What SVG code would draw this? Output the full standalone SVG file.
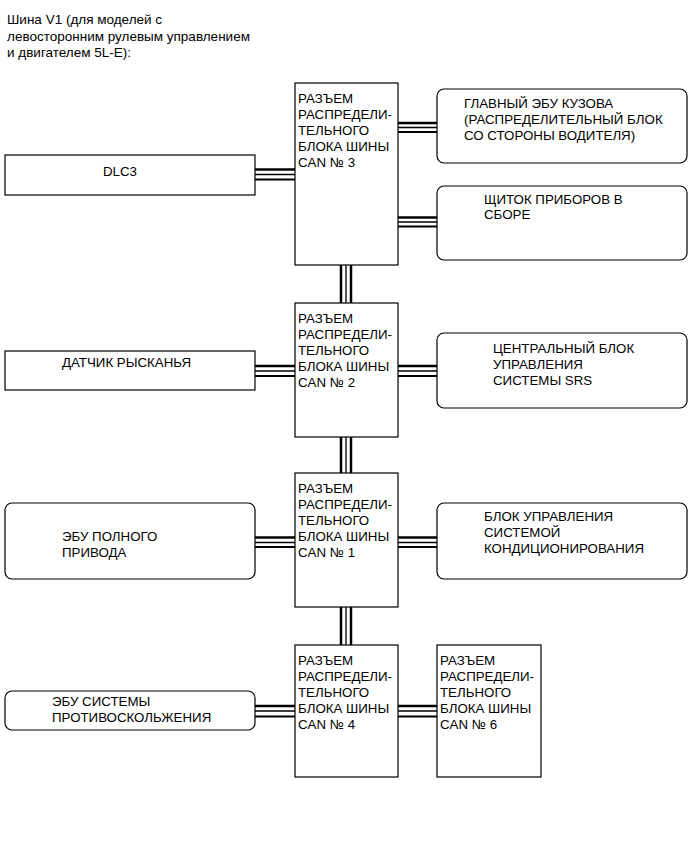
<svg xmlns="http://www.w3.org/2000/svg" width="690" height="853" viewBox="0 0 690 853">
<style>
  .box { fill: #fff; stroke: #000; stroke-width: 1.2; }
  .t { font-family: "Liberation Sans", Arial, sans-serif; font-size: 13.3px; fill: #000; }
  .title { font-family: "Liberation Sans", Arial, sans-serif; font-size: 13.5px; fill: #000; }
  .w1 { stroke: #000; stroke-width: 2.5; fill: none; }
  .w2 { stroke: #000; stroke-width: 1.3; fill: none; }
  .w3 { stroke: #000; stroke-width: 2.2; fill: none; }
</style>
<rect width="690" height="853" fill="#fff"/>

<g id="title">
  <text class="title" x="7" y="24">Шина V1 (для моделей с</text>
  <text class="title" x="7" y="40.5">левосторонним рулевым управлением</text>
  <text class="title" x="7" y="57">и двигателем 5L-E):</text>
</g>

<g id="connectors">
  <g>
    <line class="w1" x1="341" y1="265" x2="341" y2="303"/>
    <line class="w2" x1="346" y1="265" x2="346" y2="303"/>
    <line class="w1" x1="351" y1="265" x2="351" y2="303"/>
  </g>
  <g>
    <line class="w1" x1="341" y1="437" x2="341" y2="473"/>
    <line class="w2" x1="346" y1="437" x2="346" y2="473"/>
    <line class="w1" x1="351" y1="437" x2="351" y2="473"/>
  </g>
  <g>
    <line class="w1" x1="341" y1="607" x2="341" y2="645"/>
    <line class="w2" x1="346" y1="607" x2="346" y2="645"/>
    <line class="w1" x1="351" y1="607" x2="351" y2="645"/>
  </g>
  <g>
    <line class="w1" x1="255" y1="169.5" x2="295" y2="169.5"/>
    <line class="w2" x1="255" y1="174.5" x2="295" y2="174.5"/>
    <line class="w3" x1="255" y1="179.5" x2="295" y2="179.5"/>
  </g>
  <g>
    <line class="w1" x1="398" y1="123" x2="437" y2="123"/>
    <line class="w2" x1="398" y1="127.5" x2="437" y2="127.5"/>
    <line class="w3" x1="398" y1="132" x2="437" y2="132"/>
  </g>
  <g>
    <line class="w1" x1="398" y1="217.5" x2="437" y2="217.5"/>
    <line class="w2" x1="398" y1="222" x2="437" y2="222"/>
    <line class="w3" x1="398" y1="226.5" x2="437" y2="226.5"/>
  </g>
  <g>
    <line class="w1" x1="255" y1="366" x2="295" y2="366"/>
    <line class="w2" x1="255" y1="371" x2="295" y2="371"/>
    <line class="w3" x1="255" y1="376" x2="295" y2="376"/>
  </g>
  <g>
    <line class="w1" x1="398" y1="366" x2="437" y2="366"/>
    <line class="w2" x1="398" y1="371" x2="437" y2="371"/>
    <line class="w3" x1="398" y1="376" x2="437" y2="376"/>
  </g>
  <g>
    <line class="w1" x1="255" y1="537.5" x2="295" y2="537.5"/>
    <line class="w2" x1="255" y1="542.5" x2="295" y2="542.5"/>
    <line class="w3" x1="255" y1="547" x2="295" y2="547"/>
  </g>
  <g>
    <line class="w1" x1="398" y1="537.5" x2="437" y2="537.5"/>
    <line class="w2" x1="398" y1="542.5" x2="437" y2="542.5"/>
    <line class="w3" x1="398" y1="547" x2="437" y2="547"/>
  </g>
  <g>
    <line class="w1" x1="255" y1="706" x2="295" y2="706"/>
    <line class="w2" x1="255" y1="711" x2="295" y2="711"/>
    <line class="w3" x1="255" y1="716.5" x2="295" y2="716.5"/>
  </g>
  <g>
    <line class="w1" x1="398" y1="706" x2="437" y2="706"/>
    <line class="w2" x1="398" y1="711" x2="437" y2="711"/>
    <line class="w3" x1="398" y1="716.5" x2="437" y2="716.5"/>
  </g>
</g>

<g id="j3">
  <rect class="box" x="295" y="83" width="103" height="182"/>
  <text class="t" x="298" y="102.5">РАЗЪЕМ</text>
  <text class="t" x="298" y="118.5">РАСПРЕДЕЛИ-</text>
  <text class="t" x="298" y="134.5">ТЕЛЬНОГО</text>
  <text class="t" x="298" y="150.5">БЛОКА ШИНЫ</text>
  <text class="t" x="298" y="166.5">CAN № 3</text>
</g>
<g id="j2">
  <rect class="box" x="295" y="303" width="103" height="134"/>
  <text class="t" x="298" y="322.5">РАЗЪЕМ</text>
  <text class="t" x="298" y="338.5">РАСПРЕДЕЛИ-</text>
  <text class="t" x="298" y="354.5">ТЕЛЬНОГО</text>
  <text class="t" x="298" y="370.5">БЛОКА ШИНЫ</text>
  <text class="t" x="298" y="386.5">CAN № 2</text>
</g>
<g id="j1">
  <rect class="box" x="295" y="473" width="103" height="134"/>
  <text class="t" x="298" y="492.5">РАЗЪЕМ</text>
  <text class="t" x="298" y="508.5">РАСПРЕДЕЛИ-</text>
  <text class="t" x="298" y="524.5">ТЕЛЬНОГО</text>
  <text class="t" x="298" y="540.5">БЛОКА ШИНЫ</text>
  <text class="t" x="298" y="556.5">CAN № 1</text>
</g>
<g id="j4">
  <rect class="box" x="295" y="645" width="103" height="132"/>
  <text class="t" x="298" y="664.5">РАЗЪЕМ</text>
  <text class="t" x="298" y="680.5">РАСПРЕДЕЛИ-</text>
  <text class="t" x="298" y="696.5">ТЕЛЬНОГО</text>
  <text class="t" x="298" y="712.5">БЛОКА ШИНЫ</text>
  <text class="t" x="298" y="728.5">CAN № 4</text>
</g>
<g id="j6">
  <rect class="box" x="437" y="645" width="104" height="132"/>
  <text class="t" x="440" y="664.5">РАЗЪЕМ</text>
  <text class="t" x="440" y="680.5">РАСПРЕДЕЛИ-</text>
  <text class="t" x="440" y="696.5">ТЕЛЬНОГО</text>
  <text class="t" x="440" y="712.5">БЛОКА ШИНЫ</text>
  <text class="t" x="440" y="728.5">CAN № 6</text>
</g>

<g id="dlc3">
  <rect class="box" x="5" y="155" width="250" height="40"/>
  <text class="t" x="103" y="176">DLC3</text>
</g>
<g id="yaw">
  <rect class="box" x="5" y="351" width="250" height="39"/>
  <text class="t" x="62" y="367">ДАТЧИК РЫСКАНЬЯ</text>
</g>
<g id="ecu4wd">
  <rect class="box" x="5" y="503" width="250" height="76" rx="7"/>
  <text class="t" x="62" y="541">ЭБУ ПОЛНОГО</text>
  <text class="t" x="62" y="557">ПРИВОДА</text>
</g>
<g id="skid">
  <rect class="box" x="5" y="691" width="250" height="39" rx="7"/>
  <text class="t" x="52" y="706">ЭБУ СИСТЕМЫ</text>
  <text class="t" x="52" y="722">ПРОТИВОСКОЛЬЖЕНИЯ</text>
</g>

<g id="body">
  <rect class="box" x="437" y="89" width="250" height="74" rx="7"/>
  <text class="t" x="464" y="108">ГЛАВНЫЙ ЭБУ КУЗОВА</text>
  <text class="t" x="464" y="124">(РАСПРЕДЕЛИТЕЛЬНЫЙ БЛОК</text>
  <text class="t" x="464" y="139.5">СО СТОРОНЫ ВОДИТЕЛЯ)</text>
</g>
<g id="meter">
  <rect class="box" x="437" y="186" width="250" height="74" rx="7"/>
  <text class="t" x="484" y="204">ЩИТОК ПРИБОРОВ В</text>
  <text class="t" x="484" y="219">СБОРЕ</text>
</g>
<g id="srs">
  <rect class="box" x="437" y="333" width="250" height="75" rx="7"/>
  <text class="t" x="493" y="353">ЦЕНТРАЛЬНЫЙ БЛОК</text>
  <text class="t" x="493" y="369">УПРАВЛЕНИЯ</text>
  <text class="t" x="493" y="385">СИСТЕМЫ SRS</text>
</g>
<g id="ac">
  <rect class="box" x="437" y="503" width="250" height="76" rx="7"/>
  <text class="t" x="484" y="521">БЛОК УПРАВЛЕНИЯ</text>
  <text class="t" x="484" y="537">СИСТЕМОЙ</text>
  <text class="t" x="484" y="553">КОНДИЦИОНИРОВАНИЯ</text>
</g>
</svg>
